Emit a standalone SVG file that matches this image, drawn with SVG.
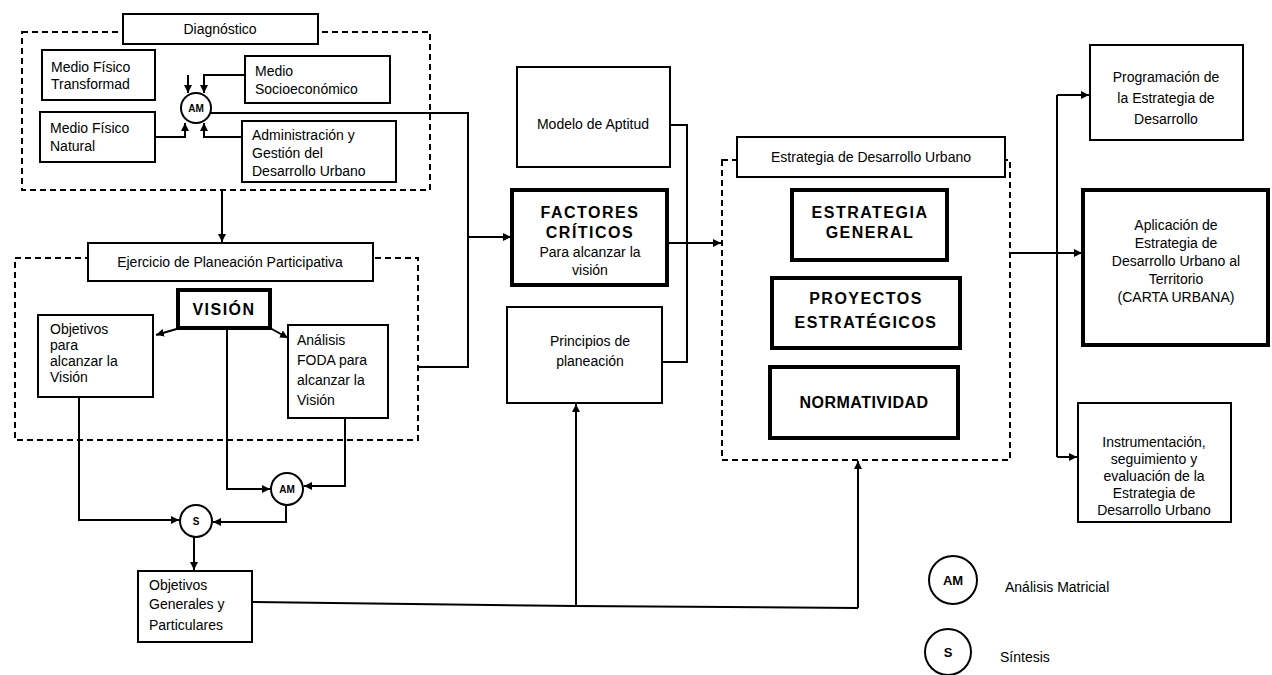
<svg xmlns="http://www.w3.org/2000/svg" width="1272" height="675" viewBox="0 0 1272 675">
<defs>
<marker id="ah" viewBox="0 0 10 10" refX="10" refY="5" markerWidth="8" markerHeight="8" markerUnits="userSpaceOnUse" orient="auto">
<path d="M0,0 L10,5 L0,10 z" fill="#000"/>
</marker>
<style>
.box{fill:#fff;stroke:#000;stroke-width:2}
.thick{stroke-width:4}
.dash{fill:none;stroke:#000;stroke-width:2;stroke-dasharray:6 4}
.ln{fill:none;stroke:#000;stroke-width:2}
.arr{marker-end:url(#ah)}
.t{font-family:"Liberation Sans",Arial,sans-serif;font-size:14px;fill:#000}
.c{text-anchor:middle}
.b{font-weight:bold;font-size:16px;letter-spacing:1.5px}
.circ{fill:#fff;stroke:#000;stroke-width:2}
.ct{font-family:"Liberation Sans",Arial,sans-serif;font-size:10px;font-weight:bold;text-anchor:middle;fill:#000}
</style>
</defs>
<rect width="1272" height="675" fill="#fff"/>

<!-- group containers -->
<g id="grp-diagnostico">
<rect class="dash" x="22" y="32" width="408" height="158"/>
<rect class="box" x="123" y="14" width="195" height="30"/>
<text class="t c" x="220" y="34">Diagnóstico</text>
</g>
<g id="grp-planeacion">
<rect class="dash" x="15" y="258" width="403" height="182"/>
<rect class="box" x="88" y="243" width="285" height="38"/>
<text class="t c" x="230" y="267">Ejercicio de Planeación Participativa</text>
</g>
<g id="grp-estrategia">
<rect class="dash" x="722" y="160" width="288" height="300"/>
<rect class="box" x="737" y="137" width="268" height="40"/>
<text class="t c" x="871" y="162">Estrategia de Desarrollo Urbano</text>
</g>

<!-- connectors -->
<g id="connectors">
<path class="ln arr" d="M245,75 H204 V93"/>
<path class="ln arr" d="M188,75 V93"/>
<path class="ln arr" d="M155,137 H185 V123"/>
<path class="ln arr" d="M242,137 H204 V123"/>
<path class="ln" d="M211,113 H468 V367 H418"/>
<path class="ln arr" d="M468,237 H511"/>
<path class="ln arr" d="M222,190 V242"/>
<path class="ln arr" d="M180,328 L156,335"/>
<path class="ln arr" d="M270,328 L288,338"/>
<path class="ln arr" d="M227,328 V489 H270"/>
<path class="ln arr" d="M345,418 V486 H304"/>
<path class="ln arr" d="M286,506 V522 H213"/>
<path class="ln arr" d="M79,397 V520 H179"/>
<path class="ln arr" d="M194,537 V570"/>
<path class="ln" d="M252,602 L576,606 L858,608"/>
<path class="ln arr" d="M858,608 V461"/>
<path class="ln arr" d="M576,606 V404"/>
<path class="ln" d="M670,125 H687 V362 H662"/>
<path class="ln arr" d="M668,243 H721"/>
<path class="ln arr" d="M1010,253 H1082"/>
<path class="ln" d="M1057,95 V457"/>
<path class="ln arr" d="M1057,95 H1089"/>
<path class="ln arr" d="M1057,457 H1077"/>
</g>

<!-- nodes -->
<g id="n-medio-fisico-transformado">
<rect class="box" x="42" y="50" width="113" height="50"/>
<text class="t" x="51" y="72">Medio Físico</text>
<text class="t" x="51" y="89">Transformad</text>
</g>
<g id="n-medio-fisico-natural">
<rect class="box" x="40" y="112" width="115" height="50"/>
<text class="t" x="50" y="133">Medio Físico</text>
<text class="t" x="50" y="151">Natural</text>
</g>
<g id="n-medio-socioeconomico">
<rect class="box" x="245" y="56" width="145" height="47"/>
<text class="t" x="255" y="76">Medio</text>
<text class="t" x="255" y="94">Socioeconómico</text>
</g>
<g id="n-administracion">
<rect class="box" x="242" y="121" width="154" height="61"/>
<text class="t" x="252" y="140">Administración y</text>
<text class="t" x="252" y="158">Gestión del</text>
<text class="t" x="252" y="176">Desarrollo Urbano</text>
</g>
<g id="n-am1">
<circle class="circ" cx="196" cy="108" r="15"/>
<text class="ct" x="196" y="112">AM</text>
</g>
<g id="n-vision">
<rect class="box thick" x="178" y="290" width="92" height="38"/>
<text class="t c b" x="224" y="315">VISIÓN</text>
</g>
<g id="n-objetivos-vision">
<rect class="box" x="38" y="315" width="115" height="82"/>
<text class="t" x="50" y="334">Objetivos</text>
<text class="t" x="50" y="350">para</text>
<text class="t" x="50" y="366">alcanzar la</text>
<text class="t" x="50" y="382">Visión</text>
</g>
<g id="n-foda">
<rect class="box" x="288" y="325" width="100" height="93"/>
<text class="t" x="297" y="345">Análisis</text>
<text class="t" x="297" y="365">FODA para</text>
<text class="t" x="297" y="385">alcanzar la</text>
<text class="t" x="297" y="405">Visión</text>
</g>
<g id="n-am2">
<circle class="circ" cx="287" cy="489" r="16"/>
<text class="ct" x="287" y="493">AM</text>
</g>
<g id="n-s">
<circle class="circ" cx="196" cy="521" r="16"/>
<text class="ct" x="196" y="525">S</text>
</g>
<g id="n-objetivos-generales">
<rect class="box" x="138" y="571" width="114" height="71"/>
<text class="t" x="149" y="590">Objetivos</text>
<text class="t" x="149" y="609">Generales y</text>
<text class="t" x="149" y="630">Particulares</text>
</g>
<g id="n-modelo-aptitud">
<rect class="box" x="517" y="67" width="153" height="100"/>
<text class="t c" x="593" y="129">Modelo de Aptitud</text>
</g>
<g id="n-factores">
<rect class="box thick" x="512" y="190" width="155" height="95"/>
<text class="t c b" x="590" y="218">FACTORES</text>
<text class="t c b" x="590" y="238">CRÍTICOS</text>
<text class="t c" x="590" y="257">Para alcanzar la</text>
<text class="t c" x="590" y="275">visión</text>
</g>
<g id="n-principios">
<rect class="box" x="507" y="307" width="155" height="96"/>
<text class="t c" x="590" y="346">Principios de</text>
<text class="t c" x="590" y="366">planeación</text>
</g>
<g id="n-estrategia-general">
<rect class="box thick" x="792" y="190" width="155" height="70"/>
<text class="t c b" x="870" y="218">ESTRATEGIA</text>
<text class="t c b" x="870" y="238">GENERAL</text>
</g>
<g id="n-proyectos">
<rect class="box thick" x="772" y="278" width="188" height="70"/>
<text class="t c b" x="866" y="304">PROYECTOS</text>
<text class="t c b" x="866" y="328">ESTRATÉGICOS</text>
</g>
<g id="n-normatividad">
<rect class="box thick" x="770" y="367" width="188" height="71"/>
<text class="t c b" x="864" y="408" style="letter-spacing:0.5px">NORMATIVIDAD</text>
</g>
<g id="n-programacion">
<rect class="box" x="1090" y="45" width="153" height="95"/>
<text class="t c" x="1166" y="82">Programación de</text>
<text class="t c" x="1166" y="103">la Estrategia de</text>
<text class="t c" x="1166" y="124">Desarrollo</text>
</g>
<g id="n-aplicacion">
<rect class="box thick" x="1083" y="190" width="185" height="155"/>
<text class="t c" x="1176" y="230">Aplicación de</text>
<text class="t c" x="1176" y="248">Estrategia de</text>
<text class="t c" x="1176" y="266">Desarrollo Urbano al</text>
<text class="t c" x="1176" y="284">Territorio</text>
<text class="t c" x="1176" y="302">(CARTA URBANA)</text>
</g>
<g id="n-instrumentacion">
<rect class="box" x="1078" y="403" width="153" height="119"/>
<text class="t c" x="1154" y="447">Instrumentación,</text>
<text class="t c" x="1154" y="464">seguimiento y</text>
<text class="t c" x="1154" y="481">evaluación de la</text>
<text class="t c" x="1154" y="498">Estrategia de</text>
<text class="t c" x="1154" y="515">Desarrollo Urbano</text>
</g>

<!-- legend -->
<g id="legend-am">
<circle class="circ" cx="953" cy="580" r="24"/>
<text class="ct" x="953" y="585" style="font-size:13px">AM</text>
<text class="t" x="1005" y="592">Análisis Matricial</text>
</g>
<g id="legend-s">
<circle class="circ" cx="948" cy="652" r="23"/>
<text class="ct" x="948" y="657" style="font-size:13px">S</text>
<text class="t" x="1000" y="662">Síntesis</text>
</g>
</svg>
